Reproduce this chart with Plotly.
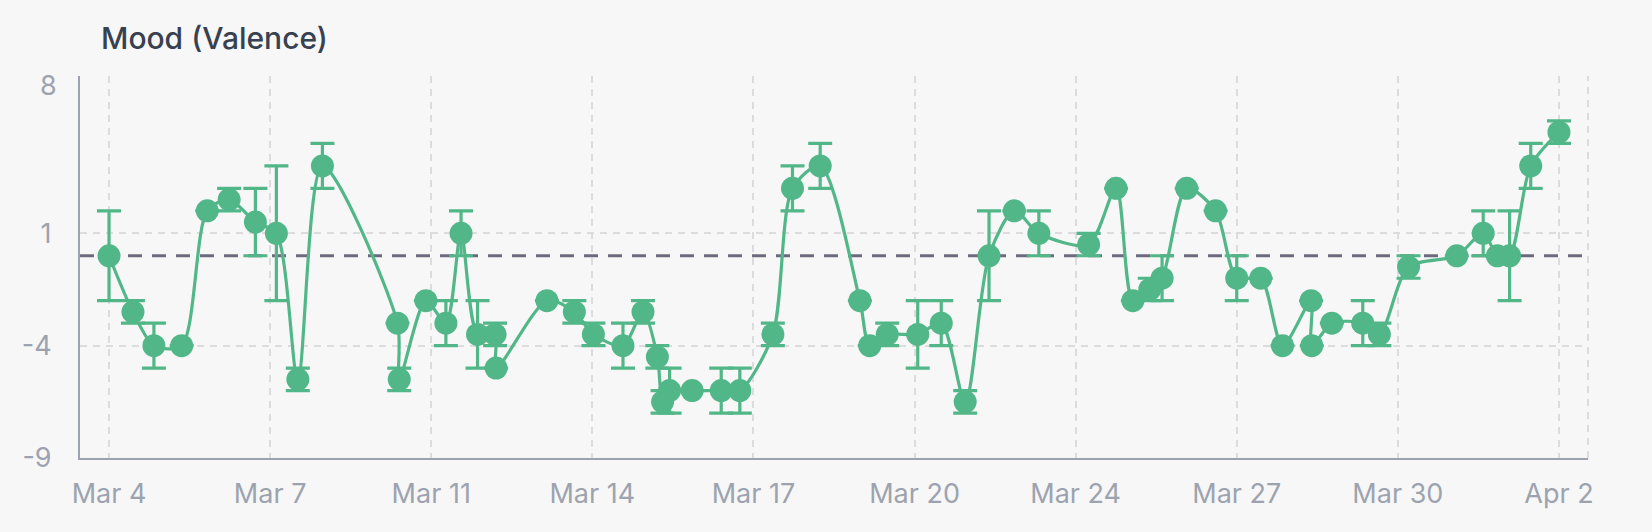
import plotly.graph_objects as go
import pandas as pd

# ---- data ----
timestamps = [
    "2024-03-04 14:24", "2024-03-05 01:57", "2024-03-05 12:04", "2024-03-06 01:28",
    "2024-03-06 13:49", "2024-03-07 00:22", "2024-03-07 13:03", "2024-03-07 23:11",
    "2024-03-08 09:32", "2024-03-08 21:24", "2024-03-10 09:37", "2024-03-10 10:29",
    "2024-03-10 23:20", "2024-03-11 09:00", "2024-03-11 16:18", "2024-03-12 00:16",
    "2024-03-12 08:43", "2024-03-12 09:14", "2024-03-13 09:46", "2024-03-13 22:59",
    "2024-03-14 08:11", "2024-03-14 22:28", "2024-03-15 08:08", "2024-03-15 15:04",
    "2024-03-15 17:35", "2024-03-15 20:58", "2024-03-16 07:51", "2024-03-16 21:53",
    "2024-03-17 06:52", "2024-03-17 22:48", "2024-03-18 08:17", "2024-03-18 21:39",
    "2024-03-19 16:49", "2024-03-19 21:33", "2024-03-20 06:00", "2024-03-20 20:44",
    "2024-03-21 08:05", "2024-03-21 19:38", "2024-03-22 07:08", "2024-03-22 19:21",
    "2024-03-23 07:11", "2024-03-24 07:13", "2024-03-24 20:27", "2024-03-25 04:34",
    "2024-03-25 12:43", "2024-03-25 18:40", "2024-03-26 06:33", "2024-03-26 20:30",
    "2024-03-27 06:42", "2024-03-27 18:17", "2024-03-28 04:48", "2024-03-28 18:35",
    "2024-03-28 18:55", "2024-03-29 04:36", "2024-03-29 19:32", "2024-03-30 03:33",
    "2024-03-30 17:38", "2024-03-31 16:55", "2024-04-01 05:40", "2024-04-01 12:29",
    "2024-04-01 18:24", "2024-04-02 04:36", "2024-04-02 18:14",
]
valence = [
    0, -2.5, -4, -4, 2, 2.5, 1.5, 1, -5.5, 4,
    -3, -5.5, -2, -3, 1, -3.5, -3.5, -5, -2, -2.5,
    -3.5, -4, -2.5, -4.5, -6.5, -6, -6, -6, -6, -3.5,
    3, 4, -2, -4, -3.5, -3.5, -3, -6.5, 0, 2,
    1, 0.5, 3, -2, -1.5, -1, 3, 2, -1, -1,
    -4, -2, -4, -3, -3, -3.5, -0.5, 0, 1, 0,
    0, 4, 5.5,
]
valence_err = [
    2, 0.5, 1, 0, 0, 0.5, 1.5, 3, 0.5, 1,
    0, 0.5, 0, 1, 1, 1.5, 0.5, 0, 0, 0.5,
    0.5, 1, 0.5, 0.5, 0.5, 1, 0, 1, 1, 0.5,
    1, 1, 0, 0, 0.5, 1.5, 1, 0.5, 2, 0,
    1, 0.5, 0, 0, 0.5, 1, 0, 0, 1, 0,
    0, 0, 0, 0, 1, 0.5, 0.5, 0, 1, 0,
    2, 1, 0.5,
]
x_tick_labels = ["Mar 4", "Mar 7", "Mar 11", "Mar 14", "Mar 17",
                 "Mar 20", "Mar 24", "Mar 27", "Mar 30", "Apr 2"]
y_tick_values = [8, 1, -4, -9]
y_tick_labels = ["8", "1", "-4", "-9"]
baseline_value = 0
title_text = "Mood (Valence)"

# ---- styling ----
GREEN = "#52b788"
BG = "#f7f7f7"
GRID = "#dcdcde"
AXIS = "#9ca3af"
TICK_TXT = "#9ca3af"
FONT = "Inter, Roboto, 'Noto Sans', sans-serif"
TICK_SIZE = 27

t = pd.to_datetime(pd.Series(timestamps))
first, last = t.min(), t.max()
span = last - first
n_ticks = len(x_tick_labels)
tick_positions = [first + span * i / (n_ticks - 1) for i in range(n_ticks)]
pad = span * (29.0 / 1449.0)
x_range = [first - pad, last + pad]

fig = go.Figure()
fig.add_trace(go.Scatter(
    x=t, y=valence,
    mode="lines+markers",
    line=dict(color=GREEN, width=3.2, shape="spline", smoothing=0.8),
    marker=dict(color=GREEN, size=23, line=dict(width=0)),
    error_y=dict(type="data", array=valence_err, symmetric=True,
                 color=GREEN, thickness=3.2, width=12),
    showlegend=False,
    hoverinfo="x+y",
))

# baseline reference line
fig.add_shape(type="line", xref="paper", x0=0, x1=1, yref="y",
              y0=baseline_value, y1=baseline_value,
              line=dict(color="#6b6b7d", width=3, dash="14px,10px"),
              layer="below")
# right edge dashed grid line
fig.add_shape(type="line", xref="paper", x0=1, x1=1, yref="paper", y0=0, y1=1,
              line=dict(color=GRID, width=2, dash="7px,6px"), layer="below")

shown_labels = [lab if v != max(y_tick_values) else "" for v, lab in zip(y_tick_values, y_tick_labels)]
fig.add_annotation(xref="paper", x=0, xanchor="right", xshift=-21,
                   yref="y", y=max(y_tick_values), yanchor="middle", yshift=-9,
                   text=y_tick_labels[y_tick_values.index(max(y_tick_values))],
                   showarrow=False, font=dict(family=FONT, size=TICK_SIZE, color=TICK_TXT))

fig.update_layout(
    width=1652, height=532,
    margin=dict(l=80, r=64, t=76, b=74),
    paper_bgcolor=BG, plot_bgcolor=BG,
    font=dict(family=FONT, size=TICK_SIZE, color=TICK_TXT),
    title=dict(text=title_text, xref="container", x=101 / 1652, xanchor="left",
               yref="container", y=1 - 38 / 532, yanchor="middle",
               font=dict(family=FONT, size=30, color="#374151", weight=500)),
    xaxis=dict(type="date", range=x_range, tickmode="array",
               tickvals=tick_positions, ticktext=x_tick_labels,
               showgrid=True, gridcolor=GRID, gridwidth=2, griddash="7px,6px",
               showline=True, linecolor=AXIS, linewidth=2,
               ticks="", ticklabelstandoff=11, zeroline=False,
               tickfont=dict(family=FONT, size=TICK_SIZE, color=TICK_TXT)),
    yaxis=dict(range=[min(y_tick_values), max(y_tick_values)], tickmode="array",
               tickvals=y_tick_values, ticktext=shown_labels,
               showgrid=True, gridcolor=GRID, gridwidth=2, griddash="7px,6px",
               showline=True, linecolor=AXIS, linewidth=2,
               ticks="", ticklabelstandoff=21, zeroline=False,
               tickfont=dict(family=FONT, size=TICK_SIZE, color=TICK_TXT)),
)

fig.write_html("out.html")
